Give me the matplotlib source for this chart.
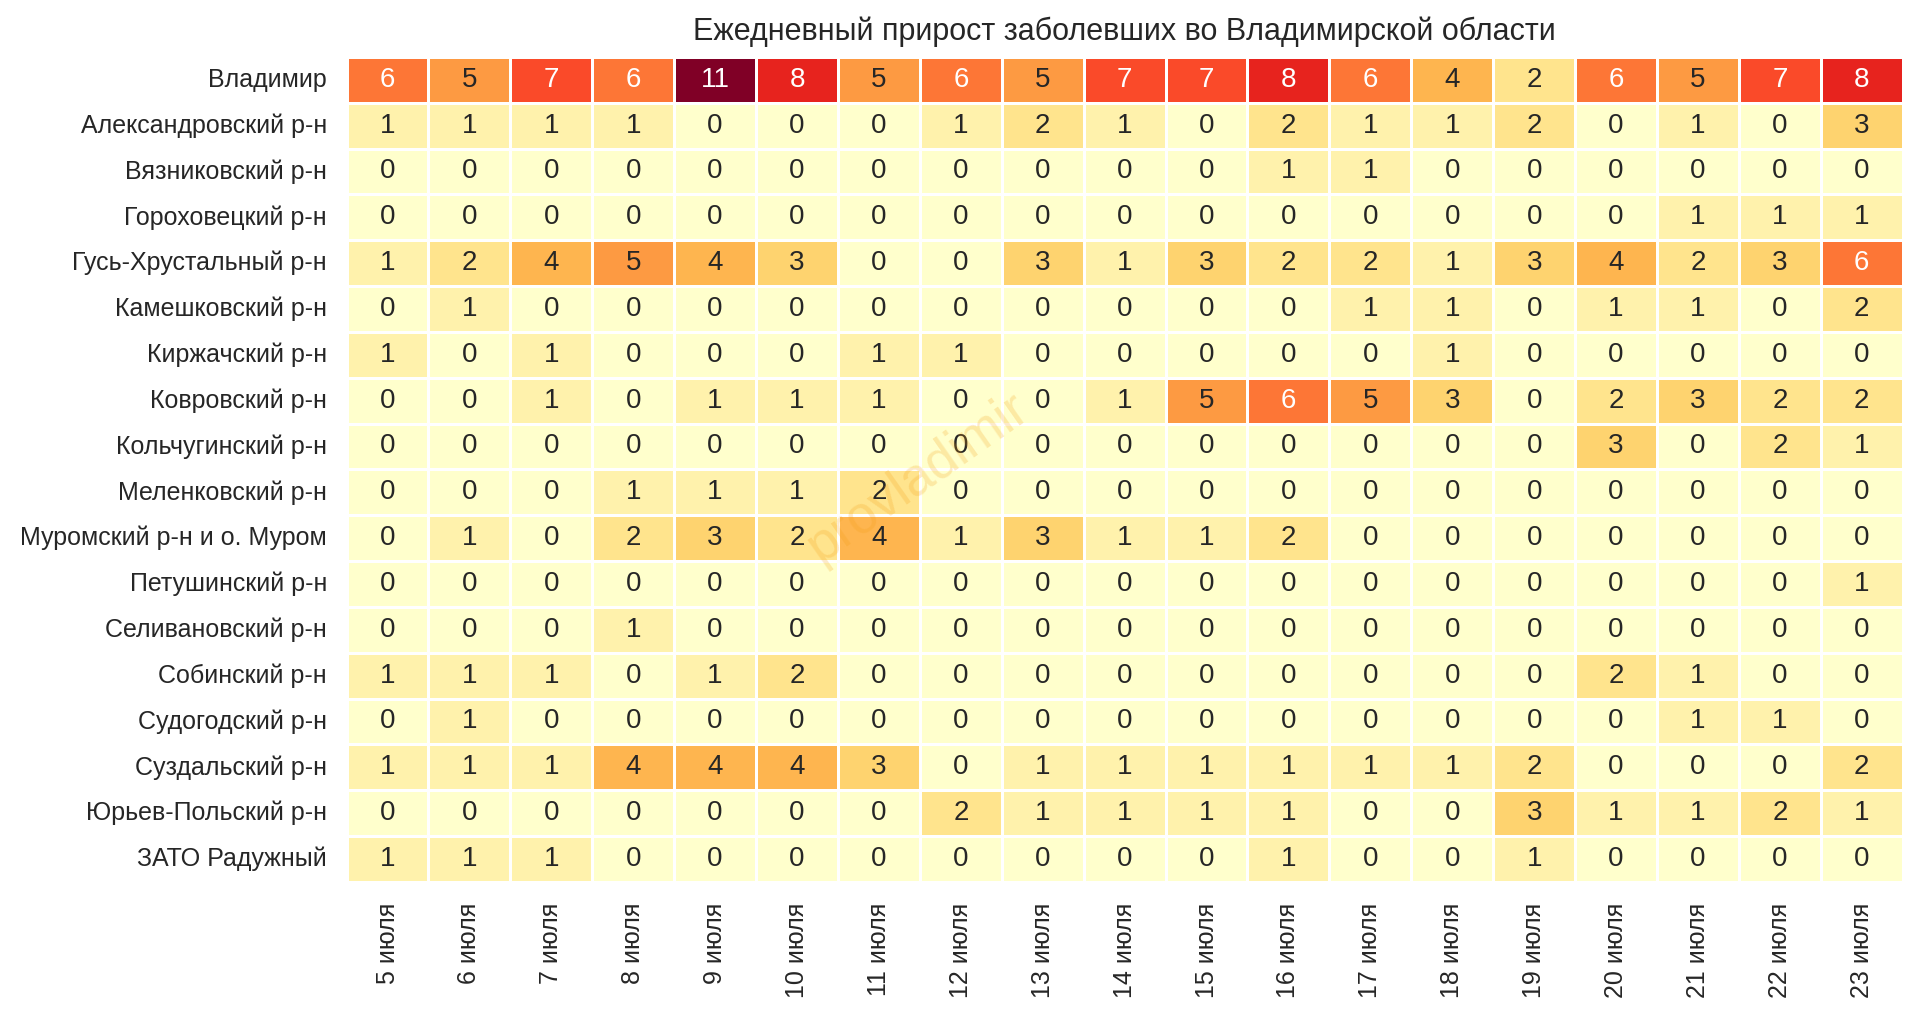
import matplotlib
matplotlib.use("Agg")
import matplotlib.pyplot as plt
import numpy as np
import seaborn as sns

# districts and dates
districts = ["Владимир", "Александровский р-н", "Вязниковский р-н", "Гороховецкий р-н",
             "Гусь-Хрустальный р-н", "Камешковский р-н", "Киржачский р-н", "Ковровский р-н",
             "Кольчугинский р-н", "Меленковский р-н", "Муромский р-н и о. Муром",
             "Петушинский р-н", "Селивановский р-н", "Собинский р-н", "Судогодский р-н",
             "Суздальский р-н", "Юрьев-Польский р-н", "ЗАТО Радужный"]
dates = [f"{d} июля" for d in range(5, 24)]

vladimir      = [6, 5, 7, 6, 11, 8, 5, 6, 5, 7, 7, 8, 6, 4, 2, 6, 5, 7, 8]
aleksandrov   = [1, 1, 1, 1, 0, 0, 0, 1, 2, 1, 0, 2, 1, 1, 2, 0, 1, 0, 3]
vyazniki      = [0, 0, 0, 0, 0, 0, 0, 0, 0, 0, 0, 1, 1, 0, 0, 0, 0, 0, 0]
gorokhovets   = [0, 0, 0, 0, 0, 0, 0, 0, 0, 0, 0, 0, 0, 0, 0, 0, 1, 1, 1]
gus           = [1, 2, 4, 5, 4, 3, 0, 0, 3, 1, 3, 2, 2, 1, 3, 4, 2, 3, 6]
kameshkovo    = [0, 1, 0, 0, 0, 0, 0, 0, 0, 0, 0, 0, 1, 1, 0, 1, 1, 0, 2]
kirzhach      = [1, 0, 1, 0, 0, 0, 1, 1, 0, 0, 0, 0, 0, 1, 0, 0, 0, 0, 0]
kovrov        = [0, 0, 1, 0, 1, 1, 1, 0, 0, 1, 5, 6, 5, 3, 0, 2, 3, 2, 2]
kolchugino    = [0, 0, 0, 0, 0, 0, 0, 0, 0, 0, 0, 0, 0, 0, 0, 3, 0, 2, 1]
melenki       = [0, 0, 0, 1, 1, 1, 2, 0, 0, 0, 0, 0, 0, 0, 0, 0, 0, 0, 0]
murom         = [0, 1, 0, 2, 3, 2, 4, 1, 3, 1, 1, 2, 0, 0, 0, 0, 0, 0, 0]
petushki      = [0, 0, 0, 0, 0, 0, 0, 0, 0, 0, 0, 0, 0, 0, 0, 0, 0, 0, 1]
selivanovo    = [0, 0, 0, 1, 0, 0, 0, 0, 0, 0, 0, 0, 0, 0, 0, 0, 0, 0, 0]
sobinka       = [1, 1, 1, 0, 1, 2, 0, 0, 0, 0, 0, 0, 0, 0, 0, 2, 1, 0, 0]
sudogda       = [0, 1, 0, 0, 0, 0, 0, 0, 0, 0, 0, 0, 0, 0, 0, 0, 1, 1, 0]
suzdal        = [1, 1, 1, 4, 4, 4, 3, 0, 1, 1, 1, 1, 1, 1, 2, 0, 0, 0, 2]
yuryev        = [0, 0, 0, 0, 0, 0, 0, 2, 1, 1, 1, 1, 0, 0, 3, 1, 1, 2, 1]
raduzhny      = [1, 1, 1, 0, 0, 0, 0, 0, 0, 0, 0, 1, 0, 0, 1, 0, 0, 0, 0]

data = np.array([vladimir, aleksandrov, vyazniki, gorokhovets, gus, kameshkovo,
                 kirzhach, kovrov, kolchugino, melenki, murom, petushki, selivanovo,
                 sobinka, sudogda, suzdal, yuryev, raduzhny])

sns.set_style("white")
plt.rcParams['font.family'] = ['Liberation Sans', 'DejaVu Sans']

fig = plt.figure(figsize=(19.2, 10.16), dpi=100)
ax = fig.add_axes([0.1805, 0.132, 0.8105, 0.812])

sns.heatmap(data, ax=ax, cmap="YlOrRd", vmin=0, vmax=11, annot=True, fmt="d",
            annot_kws={"size": 20}, linewidths=2, linecolor="white", cbar=False,
            xticklabels=dates, yticklabels=districts)

ax.tick_params(axis='x', labelsize=18, rotation=90, pad=15, length=0)
ax.tick_params(axis='y', labelsize=18, rotation=0, pad=14, length=0)
ax.set_title("Ежедневный прирост заболевших во Владимирской области",
             fontsize=22, color="#262626", pad=12)

# watermark
ax.text(0.367, 0.49, "provladimir", transform=ax.transAxes, rotation=35,
        fontsize=38, color="#f39c12", alpha=0.22, ha="center", va="center")

fig.savefig("out.png", dpi=100)
